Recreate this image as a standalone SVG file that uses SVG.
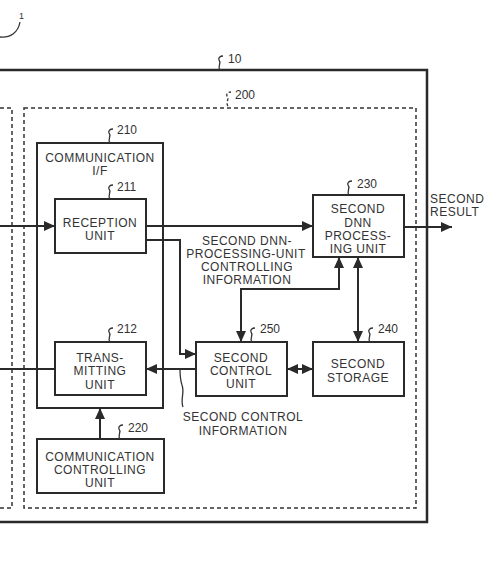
<svg xmlns="http://www.w3.org/2000/svg" width="499" height="565" viewBox="0 0 499 565">
<style>
.box{fill:#fff;stroke:#2a2a2a;stroke-width:2}
.frame{fill:none;stroke:#2a2a2a;stroke-width:2.5}
.dash{fill:none;stroke:#333;stroke-width:1.5;stroke-dasharray:4 3}
.ln{fill:none;stroke:#2a2a2a;stroke-width:2}
.ld{fill:none;stroke:#333;stroke-width:1.3}
text{font-family:"Liberation Sans",Arial,sans-serif;fill:#333;text-anchor:middle}
.t{font-size:12px;letter-spacing:0.5px}
.n{font-size:12px;text-anchor:start}
</style>
<defs>
<marker id="ah" markerUnits="userSpaceOnUse" markerWidth="11" markerHeight="10" refX="11" refY="5" orient="auto-start-reverse">
<path d="M0,0 L11,5 L0,10 z" fill="#2a2a2a"/>
</marker>
</defs>

<g id="ref1">
<path class="ld" d="M0,37 C10,38 18,33 20,22"/>
<text class="n" x="19" y="19" style="font-size:9px">1</text>
</g>

<g id="node10">
<path class="frame" d="M0,70 H427 V522 H0"/>
<path class="ld" d="M220,70 c-3,-4 2,-7 -1,-10 c-1,-2 1,-4 4,-4"/>
<text class="n" x="228" y="63">10</text>
</g>

<g id="nodeLeft">
<path class="dash" d="M0,108 H12 V508 H0"/>
</g>

<g id="node200">
<rect class="dash" x="24" y="108" width="392" height="400"/>
<path class="ld" d="M228,106 c-3,-4 2,-7 -1,-10 c-1,-2 1,-4 4,-4" stroke-dasharray="3 2"/>
<text class="n" x="235" y="99">200</text>
</g>

<g id="node210">
<rect class="box" x="37" y="143" width="126" height="265"/>
<text class="t" x="100" y="162">COMMUNICATION</text>
<text class="t" x="100" y="175">I/F</text>
<path class="ld" d="M110,143 c-3,-4 2,-7 -1,-10 c-1,-2 1,-4 4,-4"/>
<text class="n" x="117" y="134">210</text>
</g>

<g id="node211">
<rect class="box" x="55" y="199" width="91" height="54"/>
<text class="t" x="100" y="227">RECEPTION</text>
<text class="t" x="100" y="240">UNIT</text>
<path class="ld" d="M110,199 c-3,-4 2,-7 -1,-10 c-1,-2 1,-4 4,-4"/>
<text class="n" x="117" y="191">211</text>
</g>

<g id="node212">
<rect class="box" x="55" y="342" width="91" height="53"/>
<text class="t" x="100" y="362">TRANS-</text>
<text class="t" x="100" y="375">MITTING</text>
<text class="t" x="100" y="389">UNIT</text>
<path class="ld" d="M110,342 c-3,-4 2,-7 -1,-10 c-1,-2 1,-4 4,-4"/>
<text class="n" x="117" y="333">212</text>
</g>

<g id="node220">
<rect class="box" x="37" y="439" width="127" height="54"/>
<text class="t" x="100" y="461">COMMUNICATION</text>
<text class="t" x="100" y="474">CONTROLLING</text>
<text class="t" x="100" y="487">UNIT</text>
<path class="ld" d="M120,439 c-3,-4 2,-7 -1,-10 c-1,-2 1,-4 4,-4"/>
<text class="n" x="128" y="432">220</text>
</g>

<g id="node230">
<rect class="box" x="313" y="195" width="91" height="62"/>
<text class="t" x="358" y="213">SECOND</text>
<text class="t" x="358" y="227">DNN</text>
<text class="t" x="358" y="240">PROCESS-</text>
<text class="t" x="358" y="253">ING UNIT</text>
<path class="ld" d="M349,195 c-3,-4 2,-7 -1,-10 c-1,-2 1,-4 4,-4"/>
<text class="n" x="357" y="188">230</text>
</g>

<g id="node250">
<rect class="box" x="196" y="342" width="91" height="54"/>
<text class="t" x="241" y="362">SECOND</text>
<text class="t" x="241" y="375">CONTROL</text>
<text class="t" x="241" y="388">UNIT</text>
<path class="ld" d="M252,342 c-3,-4 2,-7 -1,-10 c-1,-2 1,-4 4,-4"/>
<text class="n" x="260" y="333">250</text>
</g>

<g id="node240">
<rect class="box" x="313" y="342" width="91" height="54"/>
<text class="t" x="358" y="368">SECOND</text>
<text class="t" x="358" y="382">STORAGE</text>
<path class="ld" d="M370,342 c-3,-4 2,-7 -1,-10 c-1,-2 1,-4 4,-4"/>
<text class="n" x="378" y="333">240</text>
</g>

<g id="connectors">
<path class="ln" d="M0,226 H55" marker-end="url(#ah)"/>
<path class="ln" d="M146,226 H313" marker-end="url(#ah)"/>
<path class="ln" d="M146,240 H180 V354 H196" marker-end="url(#ah)"/>
<path class="ln" d="M241,342 V289 H339 V257" marker-start="url(#ah)" marker-end="url(#ah)"/>
<path class="ln" d="M358,257 V342" marker-start="url(#ah)" marker-end="url(#ah)"/>
<path class="ln" d="M287,369 H313" marker-start="url(#ah)" marker-end="url(#ah)"/>
<path class="ln" d="M196,369 H146" marker-end="url(#ah)"/>
<path class="ln" d="M55,369 H0"/>
<path class="ln" d="M100,439 V408" marker-end="url(#ah)"/>
<path class="ln" d="M404,227 H452" marker-end="url(#ah)"/>
<path class="ld" d="M183,407 c-3,-8 2,-14 -1,-22 c-2,-6 -2,-12 -2,-16"/>
</g>

<g id="labels">
<text class="t" x="247" y="245">SECOND DNN-</text>
<text class="t" x="246" y="258">PROCESSING-UNIT</text>
<text class="t" x="247" y="271">CONTROLLING</text>
<text class="t" x="247" y="284">INFORMATION</text>
<text class="t" x="243" y="421">SECOND CONTROL</text>
<text class="t" x="243" y="435">INFORMATION</text>
<text class="t" x="430" y="203" style="text-anchor:start">SECOND</text>
<text class="t" x="430" y="216" style="text-anchor:start">RESULT</text>
</g>
</svg>
